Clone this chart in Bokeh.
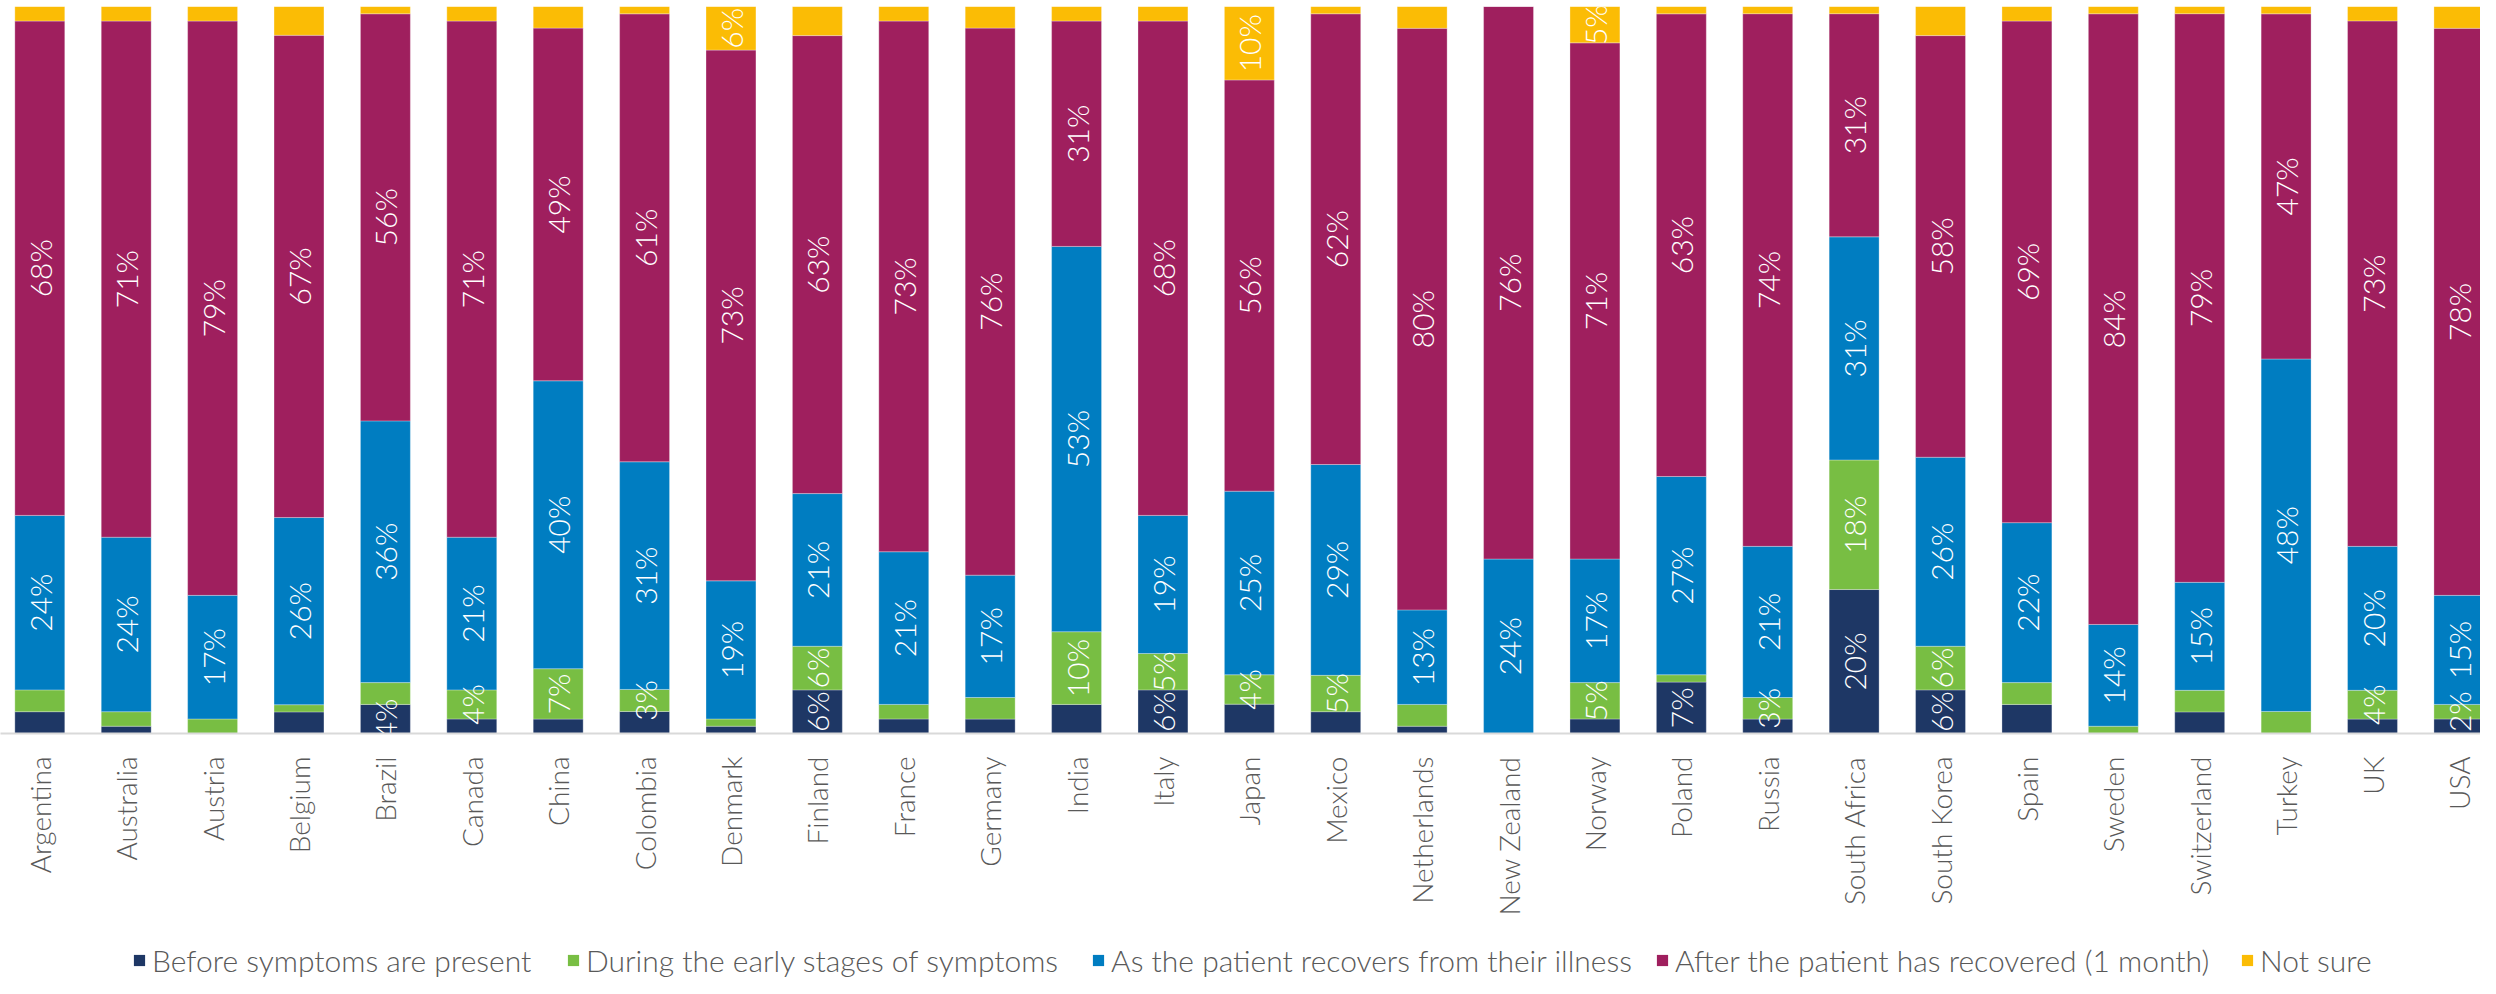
from math import pi
from bokeh.plotting import figure
from bokeh.layouts import column
from bokeh.models import ColumnDataSource, Range1d, FixedTicker, Legend, LegendItem
from bokeh.core.properties import value
from bokeh.embed import file_html
from bokeh.resources import INLINE

countries = ["Argentina", "Australia", "Austria", "Belgium", "Brazil", "Canada", "China",
             "Colombia", "Denmark", "Finland", "France", "Germany", "India", "Italy", "Japan",
             "Mexico", "Netherlands", "New Zealand", "Norway", "Poland", "Russia",
             "South Africa", "South Korea", "Spain", "Sweden", "Switzerland", "Turkey", "UK", "USA"]

before = [3, 1, 0, 3, 4, 2, 2, 3, 1, 6, 2, 2, 4, 6, 4, 3, 1, 0, 2, 7, 2, 20, 6, 4, 0, 3, 0, 2, 2]
during = [3, 2, 2, 1, 3, 4, 7, 3, 1, 6, 2, 3, 10, 5, 4, 5, 3, 0, 5, 1, 3, 18, 6, 3, 1, 3, 3, 4, 2]
recovers = [24, 24, 17, 26, 36, 21, 40, 31, 19, 21, 21, 17, 53, 19, 25, 29, 13, 24, 17, 27, 21,
            31, 26, 22, 14, 15, 48, 20, 15]
after = [68, 71, 79, 67, 56, 71, 49, 61, 73, 63, 73, 76, 31, 68, 56, 62, 80, 76, 71, 63, 74,
         31, 58, 69, 84, 79, 47, 73, 78]
not_sure = [2, 2, 2, 4, 1, 2, 3, 1, 6, 4, 2, 3, 2, 2, 10, 1, 3, 0, 5, 1, 1, 1, 4, 2, 1, 1, 1, 2, 3]

series_names = ["Before symptoms are present", "During the early stages of symptoms",
                "As the patient recovers from their illness",
                "After the patient has recovered (1 month)", "Not sure"]

# which segments carry a data label in the original
labelled_before = ["Brazil", "Finland", "Italy", "Poland", "South Africa", "South Korea"]
labelled_during = ["Canada", "China", "Colombia", "Finland", "India", "Italy", "Japan", "Mexico",
                   "Norway", "Russia", "South Africa", "South Korea", "UK", "USA"]
labelled_recovers = countries
labelled_after = countries
labelled_not_sure = ["Denmark", "Japan", "Norway"]

colors = ["#1E3765", "#78BE43", "#007DC1", "#9F1F5E", "#FBBC05"]
FONT = "Lato Light"

series = [before, during, recovers, after, not_sure]
labelled = [labelled_before, labelled_during, labelled_recovers, labelled_after, labelled_not_sure]
keys = ["s0", "s1", "s2", "s3", "s4"]

n = len(countries)
totals = [sum(s[i] for s in series) for i in range(n)]
data = {"x": list(range(n))}
for k, s in zip(keys, series):
    data[k] = [s[i] / totals[i] for i in range(n)]
src = ColumnDataSource(data)

lx, ly, lt = [], [], []
for i in range(n):
    bottom = 0.0
    for k, s, lab in zip(keys, series, labelled):
        frac = data[k][i]
        if countries[i] in lab and s[i] > 0:
            lx.append(i)
            ly.append(bottom + frac / 2)
            lt.append(f"{s[i]}%")
        bottom += frac
lsrc = ColumnDataSource(dict(x=lx, y=ly, t=lt))

p = figure(width=2480, height=940, output_backend="svg", toolbar_location=None,
           x_range=Range1d(-0.455, 28.25), y_range=Range1d(0, 1),
           min_border_top=6, min_border_bottom=207, min_border_left=0, min_border_right=0)

renderers = p.vbar_stack(keys, x="x", width=0.578, color=colors, source=src,
                         line_color="white", line_width=0.6, line_alpha=0.5)

p.text(x="x", y="y", text="t", source=lsrc, angle=pi / 2, text_align="center",
       text_baseline="middle", text_color="white", text_font=value(FONT),
       text_font_size="30px")

p.yaxis.visible = False
p.xgrid.visible = False
p.ygrid.visible = False
p.outline_line_color = None

ax = p.xaxis[0]
ax.ticker = FixedTicker(ticks=list(range(n)))
ax.major_label_overrides = {i: c for i, c in enumerate(countries)}
ax.major_label_orientation = pi / 2
ax.major_label_standoff = 17
ax.major_label_text_font = FONT
ax.major_label_text_font_size = "28px"
ax.major_label_text_color = "#595959"
ax.axis_line_color = "#D9D9D9"
ax.axis_line_width = 2
ax.major_tick_line_color = None
ax.minor_tick_line_color = None

# legend strip below the chart: same series drawn outside its visible range,
# so only the legend entries show
lg = figure(width=2480, height=38, output_backend="svg", toolbar_location=None,
            title=None, x_range=Range1d(-10, -9), y_range=Range1d(0, 1),
            x_axis_location=None, y_axis_location=None, min_border=0)
lg.xgrid.visible = False
lg.ygrid.visible = False
lg.outline_line_color = None
lg_renderers = lg.vbar_stack(keys, x="x", width=0.578, color=colors, source=src,
                             line_color=None)

legend_x = [132, 566, 1091, 1655, 2240]
for name, r, x0 in zip(series_names, lg_renderers, legend_x):
    leg = Legend(items=[LegendItem(label=name, renderers=[r])], location=(x0, 0),
                 orientation="horizontal", padding=0, margin=0, spacing=0,
                 border_line_color=None, background_fill_alpha=0,
                 glyph_width=14, glyph_height=14, label_standoff=6,
                 label_text_font=FONT, label_text_font_size="30px",
                 label_text_color="#595959")
    lg.add_layout(leg, "center")

layout = column(p, lg, spacing=0)
open("out.html", "w").write(file_html(layout, INLINE))
